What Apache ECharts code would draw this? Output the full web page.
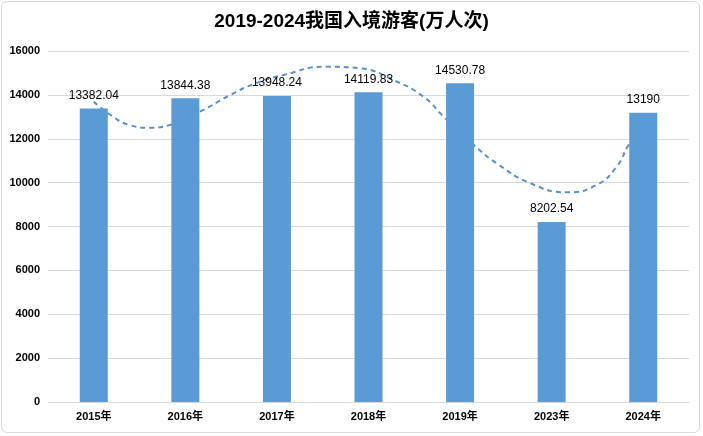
<!DOCTYPE html>
<html>
<head>
<meta charset="utf-8">
<script src="https://cdn.jsdelivr.net/npm/echarts@6/dist/echarts.min.js"></script>
<style>
html,body{margin:0;padding:0;background:#fff;}
#wrap{position:absolute;left:1px;top:1px;width:699px;height:432px;border:1px solid #d9d9d9;border-radius:6px;box-sizing:border-box;}
#chart{position:absolute;left:0;top:0;width:703px;height:436px;}
</style>
</head>
<body>
<div id="wrap"></div>
<div id="chart"></div>
<script>
const categories = ['2015年', '2016年', '2017年', '2018年', '2019年', '2023年', '2024年'];
const visitors = [13382.04, 13844.38, 13948.24, 14119.83, 14530.78, 8202.54, 13190];
const yTicks = [0, 2000, 4000, 6000, 8000, 10000, 12000, 14000, 16000];
// trend curve (x in category index units)
const trendX = [0, 0.21, 0.39, 0.61, 0.83, 1.16, 1.49, 1.75, 2.07, 2.54, 2.91, 3.27, 3.60, 3.82, 4.15, 4.40, 4.77, 5.17, 5.49, 5.71, 5.84, 6.0];
const trendY = [13690, 13005, 12627, 12504, 12627, 13233, 13994, 14500, 14906, 15285, 15210, 14678, 13918, 13005, 11715, 10880, 9970, 9560, 9892, 10728, 11715, 12700];

const chart = echarts.init(document.getElementById('chart'), null, {renderer: 'canvas'});
const font = 'Liberation Sans, Arial, Noto Sans CJK SC, sans-serif';
chart.setOption({
  animation: false,
  title: {
    text: '2019-2024我国入境游客(万人次)',
    left: 'center',
    top: 7,
    textStyle: {fontFamily: font, fontSize: 19, fontWeight: 'bold', color: '#000'}
  },
  grid: {left: 48, right: 14, top: 51, bottom: 34},
  xAxis: [{
    type: 'category',
    data: categories,
    axisLine: {lineStyle: {color: '#d9d9d9'}},
    axisTick: {show: false},
    axisLabel: {fontFamily: font, fontSize: 11, fontWeight: 'bold', color: '#000', margin: 9}
  }, {
    type: 'value',
    min: -0.5,
    max: 6.5,
    show: false
  }],
  yAxis: {
    type: 'value',
    min: yTicks[0],
    max: yTicks[yTicks.length - 1],
    interval: yTicks[1] - yTicks[0],
    axisLine: {show: false},
    axisTick: {show: false},
    splitLine: {lineStyle: {color: '#d9d9d9'}},
    axisLabel: {fontFamily: font, fontSize: 11, fontWeight: 'bold', color: '#000', margin: 8, formatter: v => String(v)}
  },
  series: [{
    type: 'line',
    xAxisIndex: 1,
    data: trendX.map((x, i) => [x, trendY[i]]),
    smooth: true,
    showSymbol: false,
    z: 1,
    lineStyle: {color: '#5b8fc9', width: 2, type: [5, 4]}
  }, {
    type: 'bar',
    data: visitors,
    barWidth: 28,
    z: 3,
    itemStyle: {color: '#5b9bd5'},
    label: {
      show: true,
      position: 'top',
      distance: 7,
      fontFamily: font,
      fontSize: 12,
      color: '#000'
    }
  }]
});
</script>
</body>
</html>
